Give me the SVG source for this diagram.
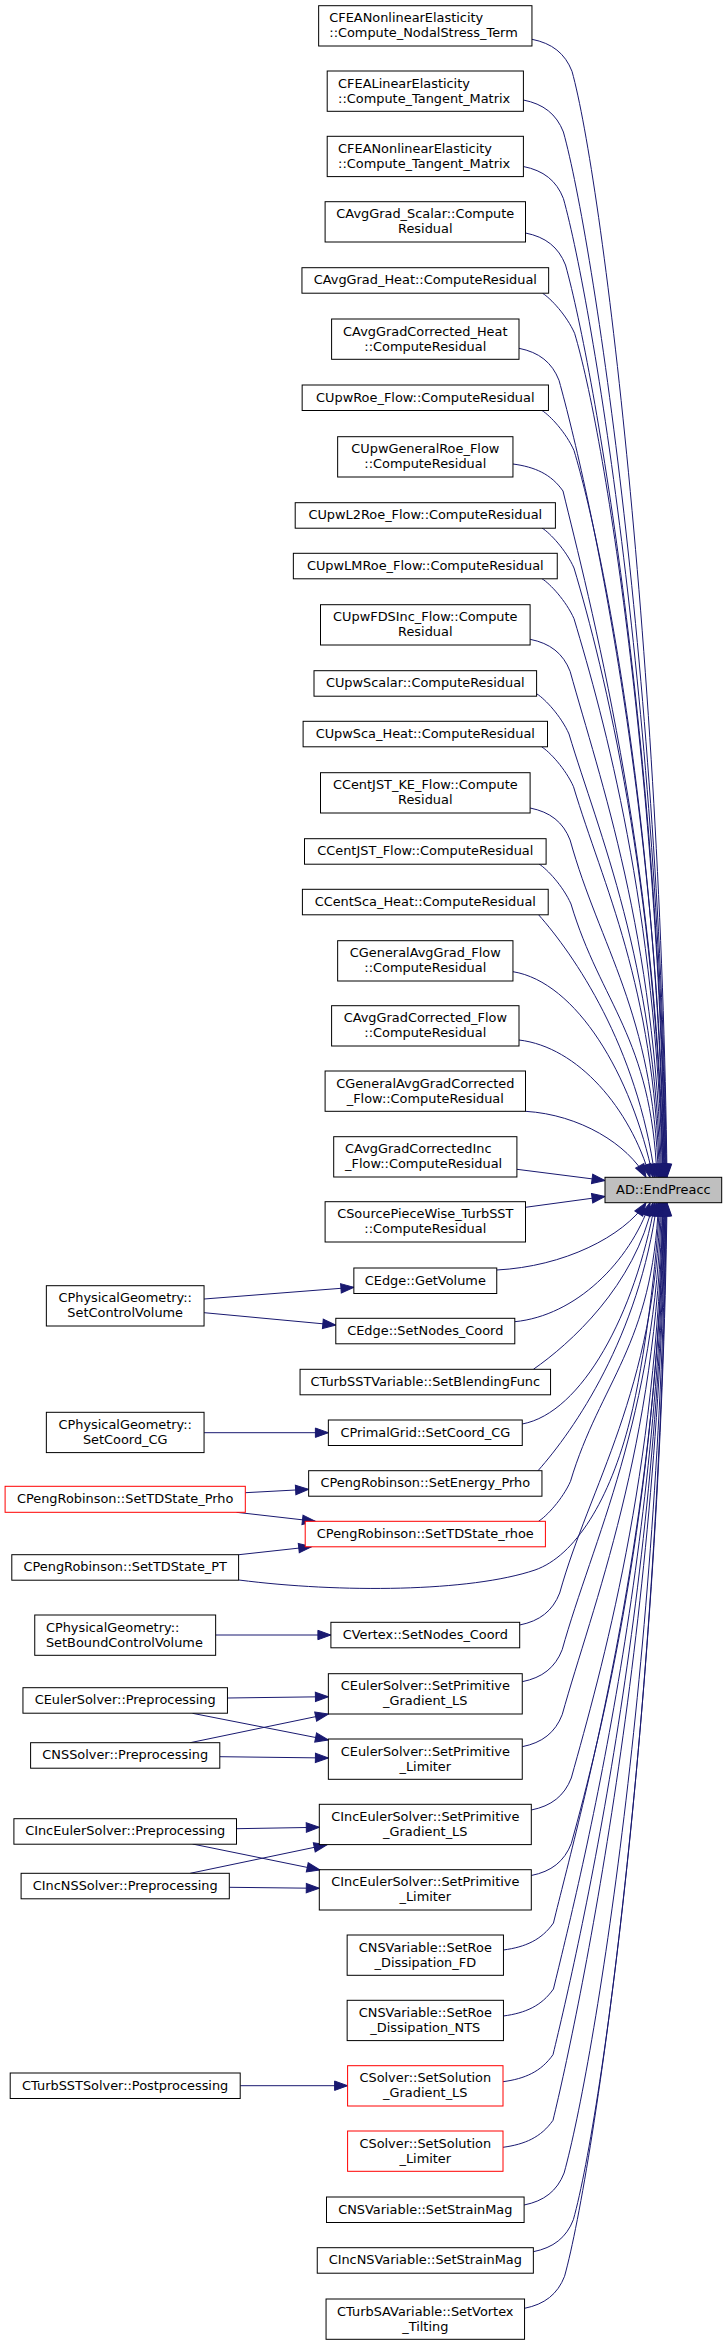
<svg xmlns="http://www.w3.org/2000/svg" width="727" height="2345" viewBox="0 0 727 2345">
<style>
.node rect{fill:#fff;stroke:#000;stroke-width:1}
.red rect{stroke:#f00}
.root rect{fill:#bfbfbf}
text{font-family:"DejaVu Sans",sans-serif;font-size:12.9px;text-anchor:middle;fill:#000}
text.l{text-anchor:start}
.edges path{fill:none;stroke:#191970;stroke-width:1;marker-end:url(#ah)}
</style>
<defs>
<marker id="ah" markerUnits="userSpaceOnUse" markerWidth="15" markerHeight="11" refX="13" refY="4.7" orient="auto" overflow="visible">
<path d="M0,0 L13,4.7 L0,9.4 z" fill="#191970" stroke="#191970" stroke-width="1"/>
</marker>
</defs>
<rect width="727" height="2345" fill="#fff"/>
<g class="edges" id="edges">
<path d="M532,39.3 C552,43.3 565,53.3 572,71.3 C602,179.3 661,665.2 667,1177.3"/>
<path d="M523.4,100 C543.4,104 556.4,114 563.4,132 C593.4,240 660.5,692.5 666.5,1177.3"/>
<path d="M523.4,166.5 C543.4,170.5 556.4,180.5 563.4,198.5 C593.4,306.5 660,722.4 666,1177.3"/>
<path d="M525.5,233 C545.5,237 558.5,247 565.5,265 C595.5,373 659.5,752.4 665.5,1177.3"/>
<path d="M542.6,293.3 C550.6,298.3 566.6,315.3 574.6,333.3 C604.6,433.3 659,779.5 665,1177.3"/>
<path d="M519,348.3 C539,352.3 552,362.3 559,380.3 C589,488.3 658.5,804.3 664.5,1177.3"/>
<path d="M542,410.5 C550,415.5 566,432.5 574,450.5 C604,550.5 658,832.2 664,1177.3"/>
<path d="M513,464 C535,467 551,474 563,491 C588,594 657.5,856.3 663.5,1177.3"/>
<path d="M542,528 C550,533 566,550 574,568 C604,668 657,885.1 663,1177.3"/>
<path d="M542,578.7 C550,583.7 566,600.7 574,618.7 C604,718.7 656.5,907.9 662.5,1177.3"/>
<path d="M530.1,639.3 C550.1,643.3 563.1,653.3 570.1,671.3 C600.1,779.3 655.5,935.2 661.5,1177.3"/>
<path d="M537,694 C545,699 561,716 569,734 C599,834 654.5,959.8 660.5,1177.3"/>
<path d="M541.5,746.7 C549.5,751.7 565.5,768.7 573.5,786.7 C603.5,886.7 653.5,983.5 659.5,1177.3"/>
<path d="M530.1,808 C550.1,812 563.1,822 570.1,840 C600.1,948 652.5,1011.1 658.5,1177.3"/>
<path d="M539,864 C547,869 563,886 571,904 C601,1004 651,1036.3 657,1177.3"/>
<path d="M538.5,914.7 C573.5,954.1 637.5,1046 655,1177.3"/>
<path d="M513,971.7 C576,982 632,1074.5 653,1177.3"/>
<path d="M519,1040 C578,1046.9 630.4,1108.7 650,1177.3"/>
<path d="M525.5,1111.3 C579.7,1114.6 627.9,1144.3 646,1177.3"/>
<path d="M516.9,1169.3 L605,1180.5"/>
<path d="M525.5,1207.3 L605,1196.5"/>
<path d="M496.7,1270 C563.9,1266.6 623.6,1236.4 646,1202.7"/>
<path d="M514.8,1321.7 C575.6,1315.75 629.7,1262.2 650,1202.7"/>
<path d="M533.4,1369.3 C569.3,1344.3 635.1,1286 653,1202.7"/>
<path d="M522.2,1424 C582,1412.9 635.1,1313.4 655,1202.7"/>
<path d="M538,1470.7 C573.7,1430.5 639.2,1336.7 657,1202.7"/>
<path d="M538.5,1521.3 C546.5,1516.3 562.5,1499.3 570.5,1481.3 C600.5,1381.3 652.5,1346.1 658.5,1202.7"/>
<path d="M238.9,1580 C340,1593 470,1592 535,1570 C575,1556 610,1500 630,1420 C645,1360 657,1260 659.5,1202.7"/>
<path d="M519.7,1625 C539.7,1621 552.7,1611 559.7,1593 C589.7,1485 654.5,1392.7 660.5,1202.7"/>
<path d="M522.2,1681.7 C542.2,1677.7 555.2,1667.7 562.2,1649.7 C592.2,1541.7 655.5,1418.2 661.5,1202.7"/>
<path d="M522.2,1746.7 C542.2,1742.7 555.2,1732.7 562.2,1714.7 C592.2,1606.7 656.5,1447.5 662.5,1202.7"/>
<path d="M531.3,1810 C551.3,1806 564.3,1796 571.3,1778 C601.3,1670 657,1476 663,1202.7"/>
<path d="M531.3,1875.5 C551.3,1871.5 564.3,1861.5 571.3,1843.5 C601.3,1735.5 657.5,1505.5 663.5,1202.7"/>
<path d="M503.45,1950 C525.45,1947 541.45,1940 553.45,1923 C578.45,1820 658,1539 664,1202.7"/>
<path d="M503.45,2016 C525.45,2013 541.45,2006 553.45,1989 C578.45,1886 658.5,1568.7 664.5,1202.7"/>
<path d="M503,2081.7 C525,2078.7 541,2071.7 553,2054.7 C578,1951.7 659,1598.2 665,1202.7"/>
<path d="M503,2147.3 C525,2144.3 541,2137.3 553,2120.3 C578,2017.3 659.5,1627.8 665.5,1202.7"/>
<path d="M524.1,2205 C544.1,2201 557.1,2191 564.1,2173 C594.1,2065 660,1653.7 666,1202.7"/>
<path d="M533.35,2251.7 C553.35,2247.7 566.35,2237.7 573.35,2219.7 C603.35,2111.7 660.5,1674.7 666.5,1202.7"/>
<path d="M524.55,2308.3 C544.55,2304.3 557.55,2294.3 564.55,2276.3 C594.55,2168.3 661,1700.2 667,1202.7"/>
<path d="M204.1,1299 L353.9,1287.3"/>
<path d="M204.1,1312.7 L335.8,1325"/>
<path d="M204.1,1432.7 L328.4,1432.7"/>
<path d="M245.3,1492.7 L308.6,1489.3"/>
<path d="M236.5,1512.3 L315.4,1521.3"/>
<path d="M238.9,1554.7 L311.7,1546.7"/>
<path d="M215.7,1635 L330.9,1635"/>
<path d="M227.3,1698 L328.4,1696.7"/>
<path d="M192.5,1713.3 L328.4,1740"/>
<path d="M190.2,1742.7 L328.4,1714"/>
<path d="M219.8,1756.7 L328.4,1758"/>
<path d="M236.5,1828.7 L319.3,1827.3"/>
<path d="M192.5,1844 L320,1870"/>
<path d="M190.2,1873.3 L327,1844.7"/>
<path d="M229.3,1887.3 L319.3,1888.3"/>
<path d="M240.2,2085.7 L347.6,2085.7"/>
</g>
<g id="root" class="node root"><rect x="605" y="1177.3" width="116.7" height="25.4"/><text x="663.35" y="1193.8">AD::EndPreacc</text></g>
<g id="n1" class="node"><rect x="318.65" y="5.7" width="213.3" height="40.3"/><text class="l" x="329.3" y="22.2">CFEANonlinearElasticity</text><text class="l" x="329.3" y="37.2">::Compute_NodalStress_Term</text></g>
<g id="n2" class="node"><rect x="327.2" y="71" width="196.2" height="40.3"/><text class="l" x="338.1" y="87.5">CFEALinearElasticity</text><text class="l" x="338.1" y="102.5">::Compute_Tangent_Matrix</text></g>
<g id="n3" class="node"><rect x="327.2" y="136.3" width="196.2" height="40.3"/><text class="l" x="338.1" y="152.8">CFEANonlinearElasticity</text><text class="l" x="338.1" y="167.8">::Compute_Tangent_Matrix</text></g>
<g id="n4" class="node"><rect x="325.1" y="201.7" width="200.4" height="40.3"/><text x="425.3" y="218.2">CAvgGrad_Scalar::Compute</text><text x="425.3" y="233.2">Residual</text></g>
<g id="n5" class="node"><rect x="301.95" y="267.7" width="246.7" height="25.5"/><text x="425.3" y="284.2">CAvgGrad_Heat::ComputeResidual</text></g>
<g id="n6" class="node"><rect x="331.6" y="319" width="187.4" height="40.3"/><text x="425.3" y="335.5">CAvgGradCorrected_Heat</text><text x="425.3" y="350.5">::ComputeResidual</text></g>
<g id="n7" class="node"><rect x="302.15" y="385" width="246.3" height="25.5"/><text x="425.3" y="401.5">CUpwRoe_Flow::ComputeResidual</text></g>
<g id="n8" class="node"><rect x="337.65" y="436.7" width="175.3" height="40.3"/><text x="425.3" y="453.2">CUpwGeneralRoe_Flow</text><text x="425.3" y="468.2">::ComputeResidual</text></g>
<g id="n9" class="node"><rect x="295.2" y="502.7" width="260.2" height="25.5"/><text x="425.3" y="519.2">CUpwL2Roe_Flow::ComputeResidual</text></g>
<g id="n10" class="node"><rect x="293.35" y="553.3" width="263.9" height="25.5"/><text x="425.3" y="569.8">CUpwLMRoe_Flow::ComputeResidual</text></g>
<g id="n11" class="node"><rect x="320.5" y="604.7" width="209.6" height="40.3"/><text x="425.3" y="621.2">CUpwFDSInc_Flow::Compute</text><text x="425.3" y="636.2">Residual</text></g>
<g id="n12" class="node"><rect x="314" y="670.7" width="222.6" height="25.5"/><text x="425.3" y="687.2">CUpwScalar::ComputeResidual</text></g>
<g id="n13" class="node"><rect x="303.1" y="721.3" width="244.4" height="25.5"/><text x="425.3" y="737.8">CUpwSca_Heat::ComputeResidual</text></g>
<g id="n14" class="node"><rect x="320.5" y="772.7" width="209.6" height="40.3"/><text x="425.3" y="789.2">CCentJST_KE_Flow::Compute</text><text x="425.3" y="804.2">Residual</text></g>
<g id="n15" class="node"><rect x="304.5" y="838.7" width="241.6" height="25.5"/><text x="425.3" y="855.2">CCentJST_Flow::ComputeResidual</text></g>
<g id="n16" class="node"><rect x="302.4" y="889.3" width="245.8" height="25.5"/><text x="425.3" y="905.8">CCentSca_Heat::ComputeResidual</text></g>
<g id="n17" class="node"><rect x="337.65" y="940.7" width="175.3" height="40.3"/><text x="425.3" y="957.2">CGeneralAvgGrad_Flow</text><text x="425.3" y="972.2">::ComputeResidual</text></g>
<g id="n18" class="node"><rect x="331.6" y="1005.7" width="187.4" height="40.3"/><text x="425.3" y="1022.2">CAvgGradCorrected_Flow</text><text x="425.3" y="1037.2">::ComputeResidual</text></g>
<g id="n19" class="node"><rect x="325.1" y="1071" width="200.4" height="40.3"/><text x="425.3" y="1087.5">CGeneralAvgGradCorrected</text><text x="425.3" y="1102.5">_Flow::ComputeResidual</text></g>
<g id="n20" class="node"><rect x="333.7" y="1136.7" width="183.2" height="40.3"/><text class="l" x="345.1" y="1153.2">CAvgGradCorrectedInc</text><text class="l" x="345.1" y="1168.2">_Flow::ComputeResidual</text></g>
<g id="n21" class="node"><rect x="325.1" y="1201.7" width="200.4" height="40.3"/><text x="425.3" y="1218.2">CSourcePieceWise_TurbSST</text><text x="425.3" y="1233.2">::ComputeResidual</text></g>
<g id="n22" class="node"><rect x="353.85" y="1268" width="142.9" height="25.5"/><text x="425.3" y="1284.5">CEdge::GetVolume</text></g>
<g id="n23" class="node"><rect x="46.35" y="1285.7" width="157.7" height="40.3"/><text x="125.2" y="1302.2">CPhysicalGeometry::</text><text x="125.2" y="1317.2">SetControlVolume</text></g>
<g id="n24" class="node"><rect x="335.8" y="1318.3" width="179" height="25.5"/><text x="425.3" y="1334.8">CEdge::SetNodes_Coord</text></g>
<g id="n25" class="node"><rect x="300.05" y="1369.3" width="250.5" height="25.5"/><text x="425.3" y="1385.8">CTurbSSTVariable::SetBlendingFunc</text></g>
<g id="n26" class="node"><rect x="46.35" y="1412.3" width="157.7" height="40.3"/><text x="125.2" y="1428.8">CPhysicalGeometry::</text><text x="125.2" y="1443.8">SetCoord_CG</text></g>
<g id="n27" class="node"><rect x="328.35" y="1420" width="193.9" height="25.5"/><text x="425.3" y="1436.5">CPrimalGrid::SetCoord_CG</text></g>
<g id="n28" class="node"><rect x="308.65" y="1470.7" width="233.3" height="25.5"/><text x="425.3" y="1487.2">CPengRobinson::SetEnergy_Prho</text></g>
<g id="n29" class="node red"><rect x="5.1" y="1486.3" width="240.2" height="26"/><text x="125.2" y="1502.8">CPengRobinson::SetTDState_Prho</text></g>
<g id="n30" class="node red"><rect x="305.2" y="1521.3" width="240.2" height="25.5"/><text x="425.3" y="1537.8">CPengRobinson::SetTDState_rhoe</text></g>
<g id="n31" class="node"><rect x="11.8" y="1554.7" width="226.8" height="25.5"/><text x="125.2" y="1571.2">CPengRobinson::SetTDState_PT</text></g>
<g id="n32" class="node"><rect x="34.75" y="1615" width="180.9" height="40.3"/><text class="l" x="45.9" y="1631.5">CPhysicalGeometry::</text><text class="l" x="45.9" y="1646.5">SetBoundControlVolume</text></g>
<g id="n33" class="node"><rect x="330.9" y="1622.3" width="188.8" height="25.5"/><text x="425.3" y="1638.8">CVertex::SetNodes_Coord</text></g>
<g id="n34" class="node"><rect x="328.35" y="1673.7" width="193.9" height="40.3"/><text x="425.3" y="1690.2">CEulerSolver::SetPrimitive</text><text x="425.3" y="1705.2">_Gradient_LS</text></g>
<g id="n35" class="node"><rect x="22.95" y="1687.7" width="204.5" height="25.5"/><text x="125.2" y="1704.2">CEulerSolver::Preprocessing</text></g>
<g id="n36" class="node"><rect x="30.6" y="1742.7" width="189.2" height="25.5"/><text x="125.2" y="1759.2">CNSSolver::Preprocessing</text></g>
<g id="n37" class="node"><rect x="328.35" y="1739" width="193.9" height="40.3"/><text x="425.3" y="1755.5">CEulerSolver::SetPrimitive</text><text x="425.3" y="1770.5">_Limiter</text></g>
<g id="n38" class="node"><rect x="319.3" y="1804.3" width="212" height="40.3"/><text x="425.3" y="1820.8">CIncEulerSolver::SetPrimitive</text><text x="425.3" y="1835.8">_Gradient_LS</text></g>
<g id="n39" class="node"><rect x="13.9" y="1818.7" width="222.6" height="25.5"/><text x="125.2" y="1835.2">CIncEulerSolver::Preprocessing</text></g>
<g id="n40" class="node"><rect x="21.1" y="1873.3" width="208.2" height="25.5"/><text x="125.2" y="1889.8">CIncNSSolver::Preprocessing</text></g>
<g id="n41" class="node"><rect x="319.3" y="1869.7" width="212" height="40.3"/><text x="425.3" y="1886.2">CIncEulerSolver::SetPrimitive</text><text x="425.3" y="1901.2">_Limiter</text></g>
<g id="n42" class="node"><rect x="347.15" y="1935" width="156.3" height="40.3"/><text x="425.3" y="1951.5">CNSVariable::SetRoe</text><text x="425.3" y="1966.5">_Dissipation_FD</text></g>
<g id="n43" class="node"><rect x="347.15" y="2000.3" width="156.3" height="40.3"/><text x="425.3" y="2016.8">CNSVariable::SetRoe</text><text x="425.3" y="2031.8">_Dissipation_NTS</text></g>
<g id="n44" class="node"><rect x="10.2" y="2073" width="230" height="25.5"/><text x="125.2" y="2089.5">CTurbSSTSolver::Postprocessing</text></g>
<g id="n45" class="node red"><rect x="347.6" y="2065.7" width="155.4" height="40.3"/><text x="425.3" y="2082.2">CSolver::SetSolution</text><text x="425.3" y="2097.2">_Gradient_LS</text></g>
<g id="n46" class="node red"><rect x="347.6" y="2131" width="155.4" height="40.3"/><text x="425.3" y="2147.5">CSolver::SetSolution</text><text x="425.3" y="2162.5">_Limiter</text></g>
<g id="n47" class="node"><rect x="326.5" y="2197" width="197.6" height="25.5"/><text x="425.3" y="2213.5">CNSVariable::SetStrainMag</text></g>
<g id="n48" class="node"><rect x="317.25" y="2247.7" width="216.1" height="25.5"/><text x="425.3" y="2264.2">CIncNSVariable::SetStrainMag</text></g>
<g id="n49" class="node"><rect x="326.05" y="2299" width="198.5" height="40.3"/><text x="425.3" y="2315.5">CTurbSAVariable::SetVortex</text><text x="425.3" y="2330.5">_Tilting</text></g>
</svg>
